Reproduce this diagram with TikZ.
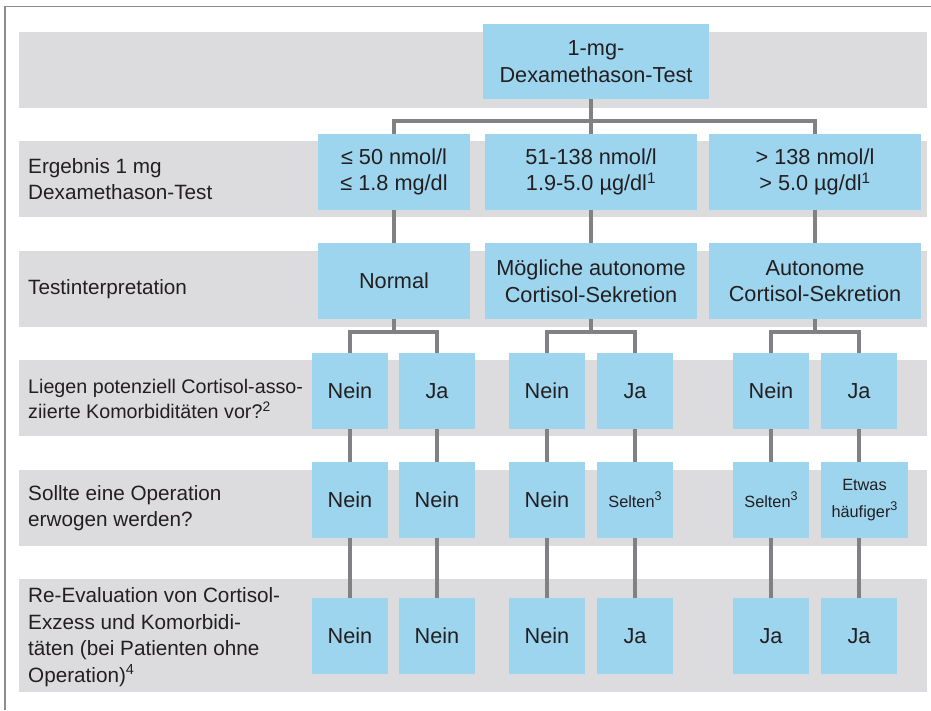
\documentclass[tikz,border=0pt]{standalone}
\usepackage{fontspec}
\setmainfont{Liberation Sans}
\definecolor{boxblue}{RGB}{157,213,239}
\definecolor{bandgray}{RGB}{220,220,222}
\definecolor{conngray}{RGB}{128,128,133}
\definecolor{txtcol}{RGB}{35,31,32}
\definecolor{framegray}{RGB}{140,140,140}
\newcommand\bigsup[1]{\raisebox{7pt}{\fontsize{12.6}{12.6}\selectfont #1}}
\begin{document}
\begin{tikzpicture}[x=1pt,y=-1pt,
  bandbox/.style={fill=bandgray, draw=none},
  box/.style={fill=boxblue, draw=none, inner sep=0pt, align=center, text=txtcol,
    font=\fontsize{21.7}{26.5}\selectfont},
  smallbox/.style={box, font=\fontsize{16.3}{27}\selectfont},
  rowlabel/.style={anchor=west, align=left, inner sep=0pt, text=txtcol,
    font=\fontsize{20.7}{26.5}\selectfont},
  conn/.style={draw=conngray, line width=4.5pt},
  frameline/.style={draw=framegray, line width=1.4pt},
]
\useasboundingbox (0,0) rectangle (931,710);
% frame
\draw[frameline] (5,710) -- (5,6.3) -- (931,6.3);
% bands
\fill[bandbox] (19,32) rectangle (927,108);
\fill[bandbox] (19,141) rectangle (927,217);
\fill[bandbox] (19,251) rectangle (927,327);
\fill[bandbox] (19,360) rectangle (927,436);
\fill[bandbox] (19,470) rectangle (927,546);
\fill[bandbox] (19,579) rectangle (927,692);
% row labels
\node[rowlabel] (l2) at (28,179) {Ergebnis 1 mg\\Dexamethason-Test};
\node[rowlabel] (l3) at (28,289) {Testinterpretation};
\node[rowlabel, font=\fontsize{19.7}{25.5}\selectfont] (l4) at (28,399) {Liegen potenziell Cortisol-asso-\\ziierte Komorbiditäten vor?\textsuperscript{2}};
\node[rowlabel] (l5) at (28,508) {Sollte eine Operation\\erwogen werden?};
\node[rowlabel] (l6) at (28,637) {Re-Evaluation von Cortisol-\\Exzess und Komorbidi-\\täten (bei Patienten ohne\\Operation)\textsuperscript{4}};
% top
\node[box, minimum width=226pt, minimum height=75pt] (top) at (596,61.5) {1-mg-\\Dexamethason-Test};
% row 2
\node[box, minimum width=152pt, minimum height=76pt] (ra) at (394,172) {≤ 50 nmol/l\\≤ 1.8 mg/dl};
\node[box, minimum width=212pt, minimum height=76pt] (rb) at (591,172) {51-138 nmol/l\\1.9-5.0 µg/dl\textsuperscript{1}};
\node[box, minimum width=212pt, minimum height=76pt] (rc) at (815,172) {> 138 nmol/l\\> 5.0 µg/dl\textsuperscript{1}};
% row 3
\node[box, minimum width=152pt, minimum height=76pt] (ia) at (394,281) {Normal};
\node[box, minimum width=212pt, minimum height=76pt] (ib) at (591,281) {Mögliche autonome\\Cortisol-Sekretion};
\node[box, minimum width=212pt, minimum height=76pt] (ic) at (815,281) {Autonome\\Cortisol-Sekretion};
% row 4
\node[box, minimum width=76pt, minimum height=76pt] (k1) at (350,391) {Nein};
\node[box, minimum width=76pt, minimum height=76pt] (k2) at (437,391) {Ja};
\node[box, minimum width=76pt, minimum height=76pt] (k3) at (547,391) {Nein};
\node[box, minimum width=76pt, minimum height=76pt] (k4) at (635,391) {Ja};
\node[box, minimum width=76pt, minimum height=76pt] (k5) at (771,391) {Nein};
\node[box, minimum width=76pt, minimum height=76pt] (k6) at (859,391) {Ja};
% row 5
\node[box, minimum width=76pt, minimum height=76pt] (o1) at (350,500) {Nein};
\node[box, minimum width=76pt, minimum height=76pt] (o2) at (437,500) {Nein};
\node[box, minimum width=76pt, minimum height=76pt] (o3) at (547,500) {Nein};
\node[smallbox, minimum width=76pt, minimum height=76pt] (o4) at (635,500) {Selten\bigsup{3}};
\node[smallbox, minimum width=76pt, minimum height=76pt] (o5) at (771,500) {Selten\bigsup{3}};
\node[smallbox, minimum width=87pt, minimum height=76pt] (o6) at (864.5,500) {Etwas\\häufiger\bigsup{3}};
% row 6
\node[box, minimum width=76pt, minimum height=76pt] (e1) at (350,636) {Nein};
\node[box, minimum width=76pt, minimum height=76pt] (e2) at (437,636) {Nein};
\node[box, minimum width=76pt, minimum height=76pt] (e3) at (547,636) {Nein};
\node[box, minimum width=76pt, minimum height=76pt] (e4) at (635,636) {Ja};
\node[box, minimum width=76pt, minimum height=76pt] (e5) at (771,636) {Ja};
\node[box, minimum width=76pt, minimum height=76pt] (e6) at (859,636) {Ja};
% connectors
\coordinate (j0) at (0,121);
\coordinate (j1) at (0,332);
\draw[conn] (rb.north |- top.south) -- (rb.north);
\draw[conn] (ra.north) -- (ra.north |- j0) -- (rc.north |- j0) -- (rc.north);
\draw[conn] (ra.south) -- (ia.north);
\draw[conn] (rb.south) -- (ib.north);
\draw[conn] (rc.south) -- (ic.north);
\draw[conn] (ia.south) -- (ia.south |- j1);
\draw[conn] (ib.south) -- (ib.south |- j1);
\draw[conn] (ic.south) -- (ic.south |- j1);
\draw[conn] (k1.north) -- (k1.north |- j1) -- (k2.north |- j1) -- (k2.north);
\draw[conn] (k3.north) -- (k3.north |- j1) -- (k4.north |- j1) -- (k4.north);
\draw[conn] (k5.north) -- (k5.north |- j1) -- (k6.north |- j1) -- (k6.north);
\foreach \k/\o/\e in {k1/o1/e1,k2/o2/e2,k3/o3/e3,k4/o4/e4,k5/o5/e5,k6/o6/e6}{
  \draw[conn] (\k.south) -- (\k.south |- \o.north);
  \draw[conn] (\k.south |- \o.south) -- (\e.north);
}
\end{tikzpicture}
\end{document}
